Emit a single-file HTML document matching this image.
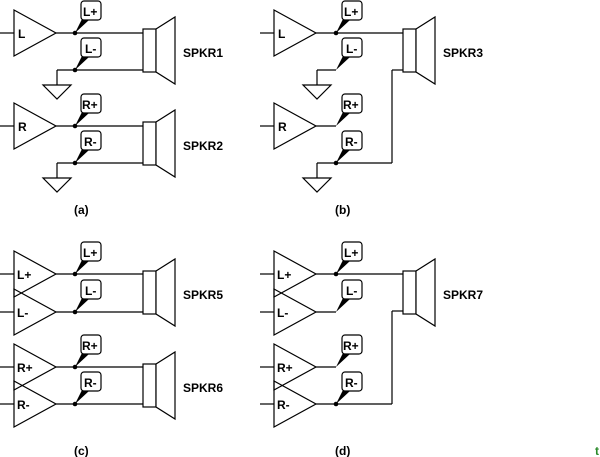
<!DOCTYPE html>
<html><head><meta charset="utf-8"><style>
html,body{margin:0;padding:0;background:#fff;}
svg{display:block}
text{font-family:"Liberation Sans",Arial,sans-serif;font-weight:bold;font-size:12px;fill:#000}
</style></head><body>
<svg width="600" height="457" viewBox="0 0 600 457" xmlns="http://www.w3.org/2000/svg">
<defs>
<g id="amp"><polygon points="0,-23 42,0 0,23" fill="none" stroke="#000" stroke-width="1.2"/><line x1="-14" y1="0" x2="0" y2="0" stroke="#000" stroke-width="1.2"/></g>
<g id="spk"><rect x="0" y="0" width="13" height="43" fill="#fff" stroke="#000" stroke-width="1.2"/><polygon points="13,0 32,-12 32,55 13,43" fill="#fff" stroke="#000" stroke-width="1.2"/></g>
<g id="gnd"><polygon points="-14,0 14,0 0,14" fill="#fff" stroke="#000" stroke-width="1.2"/></g>
<g id="lab"><polygon points="0,0 7,-14 14,-13" fill="#000"/><rect x="6" y="-32" width="20" height="19" rx="3" fill="#fff" stroke="#000" stroke-width="1.2"/></g>
<circle id="dot" r="2.3" fill="#000"/>
</defs>
<g stroke="#000" stroke-width="1.2" fill="none">
<line x1="56" y1="33" x2="143" y2="33"/><line x1="57" y1="70" x2="143" y2="70"/><line x1="57" y1="70" x2="57" y2="85"/>
<line x1="56" y1="126" x2="143" y2="126"/><line x1="57" y1="163" x2="143" y2="163"/><line x1="57" y1="163" x2="57" y2="178"/>
<line x1="316" y1="33" x2="403" y2="33"/><line x1="317" y1="70" x2="336" y2="70"/><line x1="317" y1="70" x2="317" y2="85"/>
<line x1="392" y1="70" x2="403" y2="70"/><line x1="392" y1="70" x2="392" y2="163"/>
<line x1="316" y1="126" x2="336" y2="126"/><line x1="317" y1="163" x2="392" y2="163"/><line x1="317" y1="163" x2="317" y2="178"/>
<line x1="56" y1="274" x2="143" y2="274"/><line x1="56" y1="312" x2="143" y2="312"/>
<line x1="56" y1="367" x2="143" y2="367"/><line x1="56" y1="404" x2="143" y2="404"/>
<line x1="316" y1="274" x2="403" y2="274"/><line x1="316" y1="312" x2="336" y2="312"/>
<line x1="392" y1="311" x2="403" y2="311"/><line x1="392" y1="311" x2="392" y2="404"/>
<line x1="316" y1="367" x2="336" y2="367"/><line x1="316" y1="404" x2="392" y2="404"/>
</g>
<use href="#amp" x="14" y="33"/><use href="#amp" x="14" y="126"/>
<use href="#amp" x="274" y="33"/><use href="#amp" x="274" y="126"/>
<use href="#amp" x="14" y="274"/><use href="#amp" x="14" y="312"/><use href="#amp" x="14" y="367"/><use href="#amp" x="14" y="404"/>
<use href="#amp" x="274" y="274"/><use href="#amp" x="274" y="312"/><use href="#amp" x="274" y="367"/><use href="#amp" x="274" y="404"/>
<use href="#spk" x="143" y="29"/><use href="#spk" x="143" y="122"/><use href="#spk" x="403" y="29"/>
<use href="#spk" x="143" y="271"/><use href="#spk" x="143" y="364"/><use href="#spk" x="403" y="271"/>
<use href="#gnd" x="57" y="85"/><use href="#gnd" x="57" y="178"/><use href="#gnd" x="317" y="85"/><use href="#gnd" x="317" y="178"/>
<use href="#lab" x="75" y="33"/><use href="#lab" x="75" y="70"/><use href="#lab" x="75" y="126"/><use href="#lab" x="75" y="163"/>
<use href="#lab" x="336" y="33"/><use href="#lab" x="336" y="70"/><use href="#lab" x="336" y="126"/><use href="#lab" x="336" y="163"/>
<use href="#lab" x="75" y="274"/><use href="#lab" x="75" y="312"/><use href="#lab" x="75" y="367"/><use href="#lab" x="75" y="404"/>
<use href="#lab" x="336" y="274"/><use href="#lab" x="336" y="312"/><use href="#lab" x="336" y="367"/><use href="#lab" x="336" y="404"/>
<use href="#dot" x="75" y="33"/><use href="#dot" x="75" y="70"/><use href="#dot" x="75" y="126"/><use href="#dot" x="75" y="163"/>
<use href="#dot" x="336" y="33"/><use href="#dot" x="336" y="163"/>
<use href="#dot" x="75" y="274"/><use href="#dot" x="75" y="312"/><use href="#dot" x="75" y="367"/><use href="#dot" x="75" y="404"/>
<use href="#dot" x="336" y="274"/><use href="#dot" x="336" y="404"/>
<g font-size="11">
<text x="83" y="16">L+</text><text x="85" y="53">L-</text><text x="82" y="109">R+</text><text x="84" y="146">R-</text>
<text x="344" y="16">L+</text><text x="346" y="53">L-</text><text x="343" y="109">R+</text><text x="345" y="146">R-</text>
<text x="83" y="257">L+</text><text x="85" y="295">L-</text><text x="82" y="350">R+</text><text x="84" y="387">R-</text>
<text x="344" y="257">L+</text><text x="346" y="295">L-</text><text x="343" y="350">R+</text><text x="345" y="387">R-</text>
</g>
<text x="18" y="38">L</text><text x="18" y="131">R</text>
<text x="278" y="38">L</text><text x="278" y="131">R</text>
<text x="17" y="279">L+</text><text x="17" y="317">L-</text>
<text x="17" y="372">R+</text><text x="17" y="409">R-</text>
<text x="277" y="279">L+</text><text x="277" y="317">L-</text>
<text x="277" y="372">R+</text><text x="277" y="409">R-</text>
<text x="183" y="57">SPKR1</text><text x="183" y="150">SPKR2</text><text x="443" y="57">SPKR3</text>
<text x="183" y="299">SPKR5</text><text x="183" y="392">SPKR6</text><text x="443" y="299">SPKR7</text>
<text x="74" y="214" font-size="11">(a)</text><text x="335" y="214" font-size="11">(b)</text>
<text x="74" y="455" font-size="11">(c)</text><text x="335" y="455" font-size="11">(d)</text>
<text x="595" y="455" style="fill:#2a8a2a">t</text>
</svg>
</body></html>
